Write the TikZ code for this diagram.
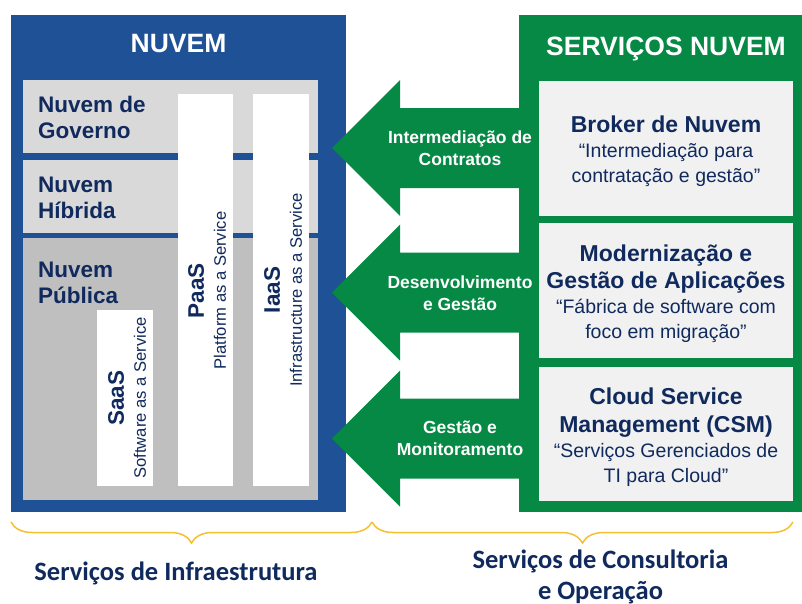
\documentclass[tikz,border=0pt]{standalone}
\usepackage{fontspec}
\setmainfont{Liberation Sans}
\newfontfamily\carlito{Carlito}
\usetikzlibrary{decorations.pathreplacing}
\definecolor{azulnuvem}{RGB}{31,81,150}
\definecolor{verdenuvem}{RGB}{6,137,69}
\definecolor{cinzaclaro}{RGB}{217,217,217}
\definecolor{cinzaescuro}{RGB}{191,191,191}
\definecolor{cinzabox}{RGB}{241,241,241}
\definecolor{azultexto}{RGB}{16,42,94}
\definecolor{amarelo}{RGB}{245,192,45}
\newcommand{\tittexto}{\fontsize{23}{27}\selectfont\bfseries}
\newcommand{\siglatexto}{\fontsize{22.5}{26}\selectfont\bfseries}
\tikzset{
	titulo/.style={anchor=base,inner sep=0pt,text=white,font=\fontsize{26.5}{30}\selectfont\bfseries},
	tipo/.style={anchor=base west,inner sep=0pt,align=left,text=azultexto,font=\fontsize{22.5}{26}\selectfont\bfseries},
	servico/.style={rotate=90,inner sep=0pt,align=center,text=azultexto,font=\fontsize{16.6}{22}\selectfont},
	caixa/.style={fill=cinzabox,minimum width=254pt,inner sep=0pt},
	textocaixa/.style={anchor=base,inner sep=0pt,align=center,text=azultexto,font=\fontsize{19.5}{25}\selectfont},
	rotulo/.style={anchor=base,inner sep=0pt,align=center,text=white,font=\fontsize{17.5}{22}\selectfont\bfseries},
	chave/.style={draw=amarelo,line width=1.5pt,decorate,decoration={brace,amplitude=21pt,mirror}},
	legenda/.style={anchor=base,inner sep=0pt,align=center,text=azultexto,font=\carlito\fontsize{26.5}{31}\selectfont\bfseries}
}
\begin{document}
\begin{tikzpicture}[x=1pt,y=-1pt]
	\useasboundingbox (0,0) rectangle (802,603);
%Nuvem
	\fill[azulnuvem] (11,15) rectangle (346,512);
	\node[titulo] (tnuvem) at (178.5,52) {NUVEM};
	\fill[cinzaclaro] (23,80) rectangle (318,153);
	\fill[cinzaclaro] (23,160) rectangle (318,233);
	\fill[cinzaescuro] (23,238) rectangle (318,500);
	\node[tipo] (governo) at (38,138) {Nuvem de\\Governo};
	\node[tipo] (hibrida) at (38,218) {Nuvem\\Híbrida};
	\node[tipo] (publica) at (38,303) {Nuvem\\Pública};
%Colunas
	\fill[white] (178,94) rectangle (233,486);
	\fill[white] (253,94) rectangle (309,486);
	\fill[white] (97,310) rectangle (153,486);
	\node[servico] (paas) at (207,290.5)
		{{\siglatexto PaaS}\\Platform as a Service};
	\node[servico] (iaas) at (283,290)
		{{\siglatexto IaaS}\\Infrastructure as a Service};
	\node[servico] (saas) at (127,398)
		{{\siglatexto SaaS}\\Software as a Service};
%Servicos
	\fill[verdenuvem] (519,15) rectangle (802,512);
	\node[titulo] (tservicos) at (666,55) {SERVIÇOS NUVEM};
	\node[caixa,minimum height=135pt] (broker) at (666,148) {};
	\node[caixa,minimum height=135pt] (moderniza) at (666,290.5) {};
	\node[caixa,minimum height=134pt] (csm) at (666,434) {};
	\node[textocaixa] (tbroker) at (666,182)
		{{\tittexto Broker de Nuvem}\\“Intermediação para\\contratação e gestão”};
	\node[textocaixa] (tmoderniza) at (666,338)
		{{\tittexto Modernização e}\\[1.5pt]{\tittexto Gestão de Aplicações}\\“Fábrica de software com\\foco em migração”};
	\node[textocaixa] (tcsm) at (666,482)
		{{\tittexto Cloud Service}\\[2.5pt]{\tittexto Management (CSM)}\\“Serviços Gerenciados de\\TI para Cloud”};
%Setas
	\foreach \y in {148,292.5,438.5}{
		\fill[verdenuvem] (520,\y-40) -- (400,\y-40) -- (400,\y-68) -- (332,\y)
			-- (400,\y+68) -- (400,\y+40) -- (520,\y+40) -- cycle;}
	\node[rotulo] (contratos) at (460,165) {Intermediação de\\Contratos};
	\node[rotulo] (desenv) at (460,310) {Desenvolvimento\\e Gestão};
	\node[rotulo] (monitor) at (460,455) {Gestão e\\Monitoramento};
%Chaves
	\coordinate (c1) at (11,522);
	\coordinate (c2) at (372,522);
	\coordinate (c3) at (793,522);
	\draw[chave] (c1) -- (c2);
	\draw[chave] (c2) -- (c3);
	\node[legenda] (infra) at (176,580) {Serviços de Infraestrutura};
	\node[legenda] (consult) at (600.5,599) {Serviços de Consultoria\\e Operação};
\end{tikzpicture}
\end{document}
